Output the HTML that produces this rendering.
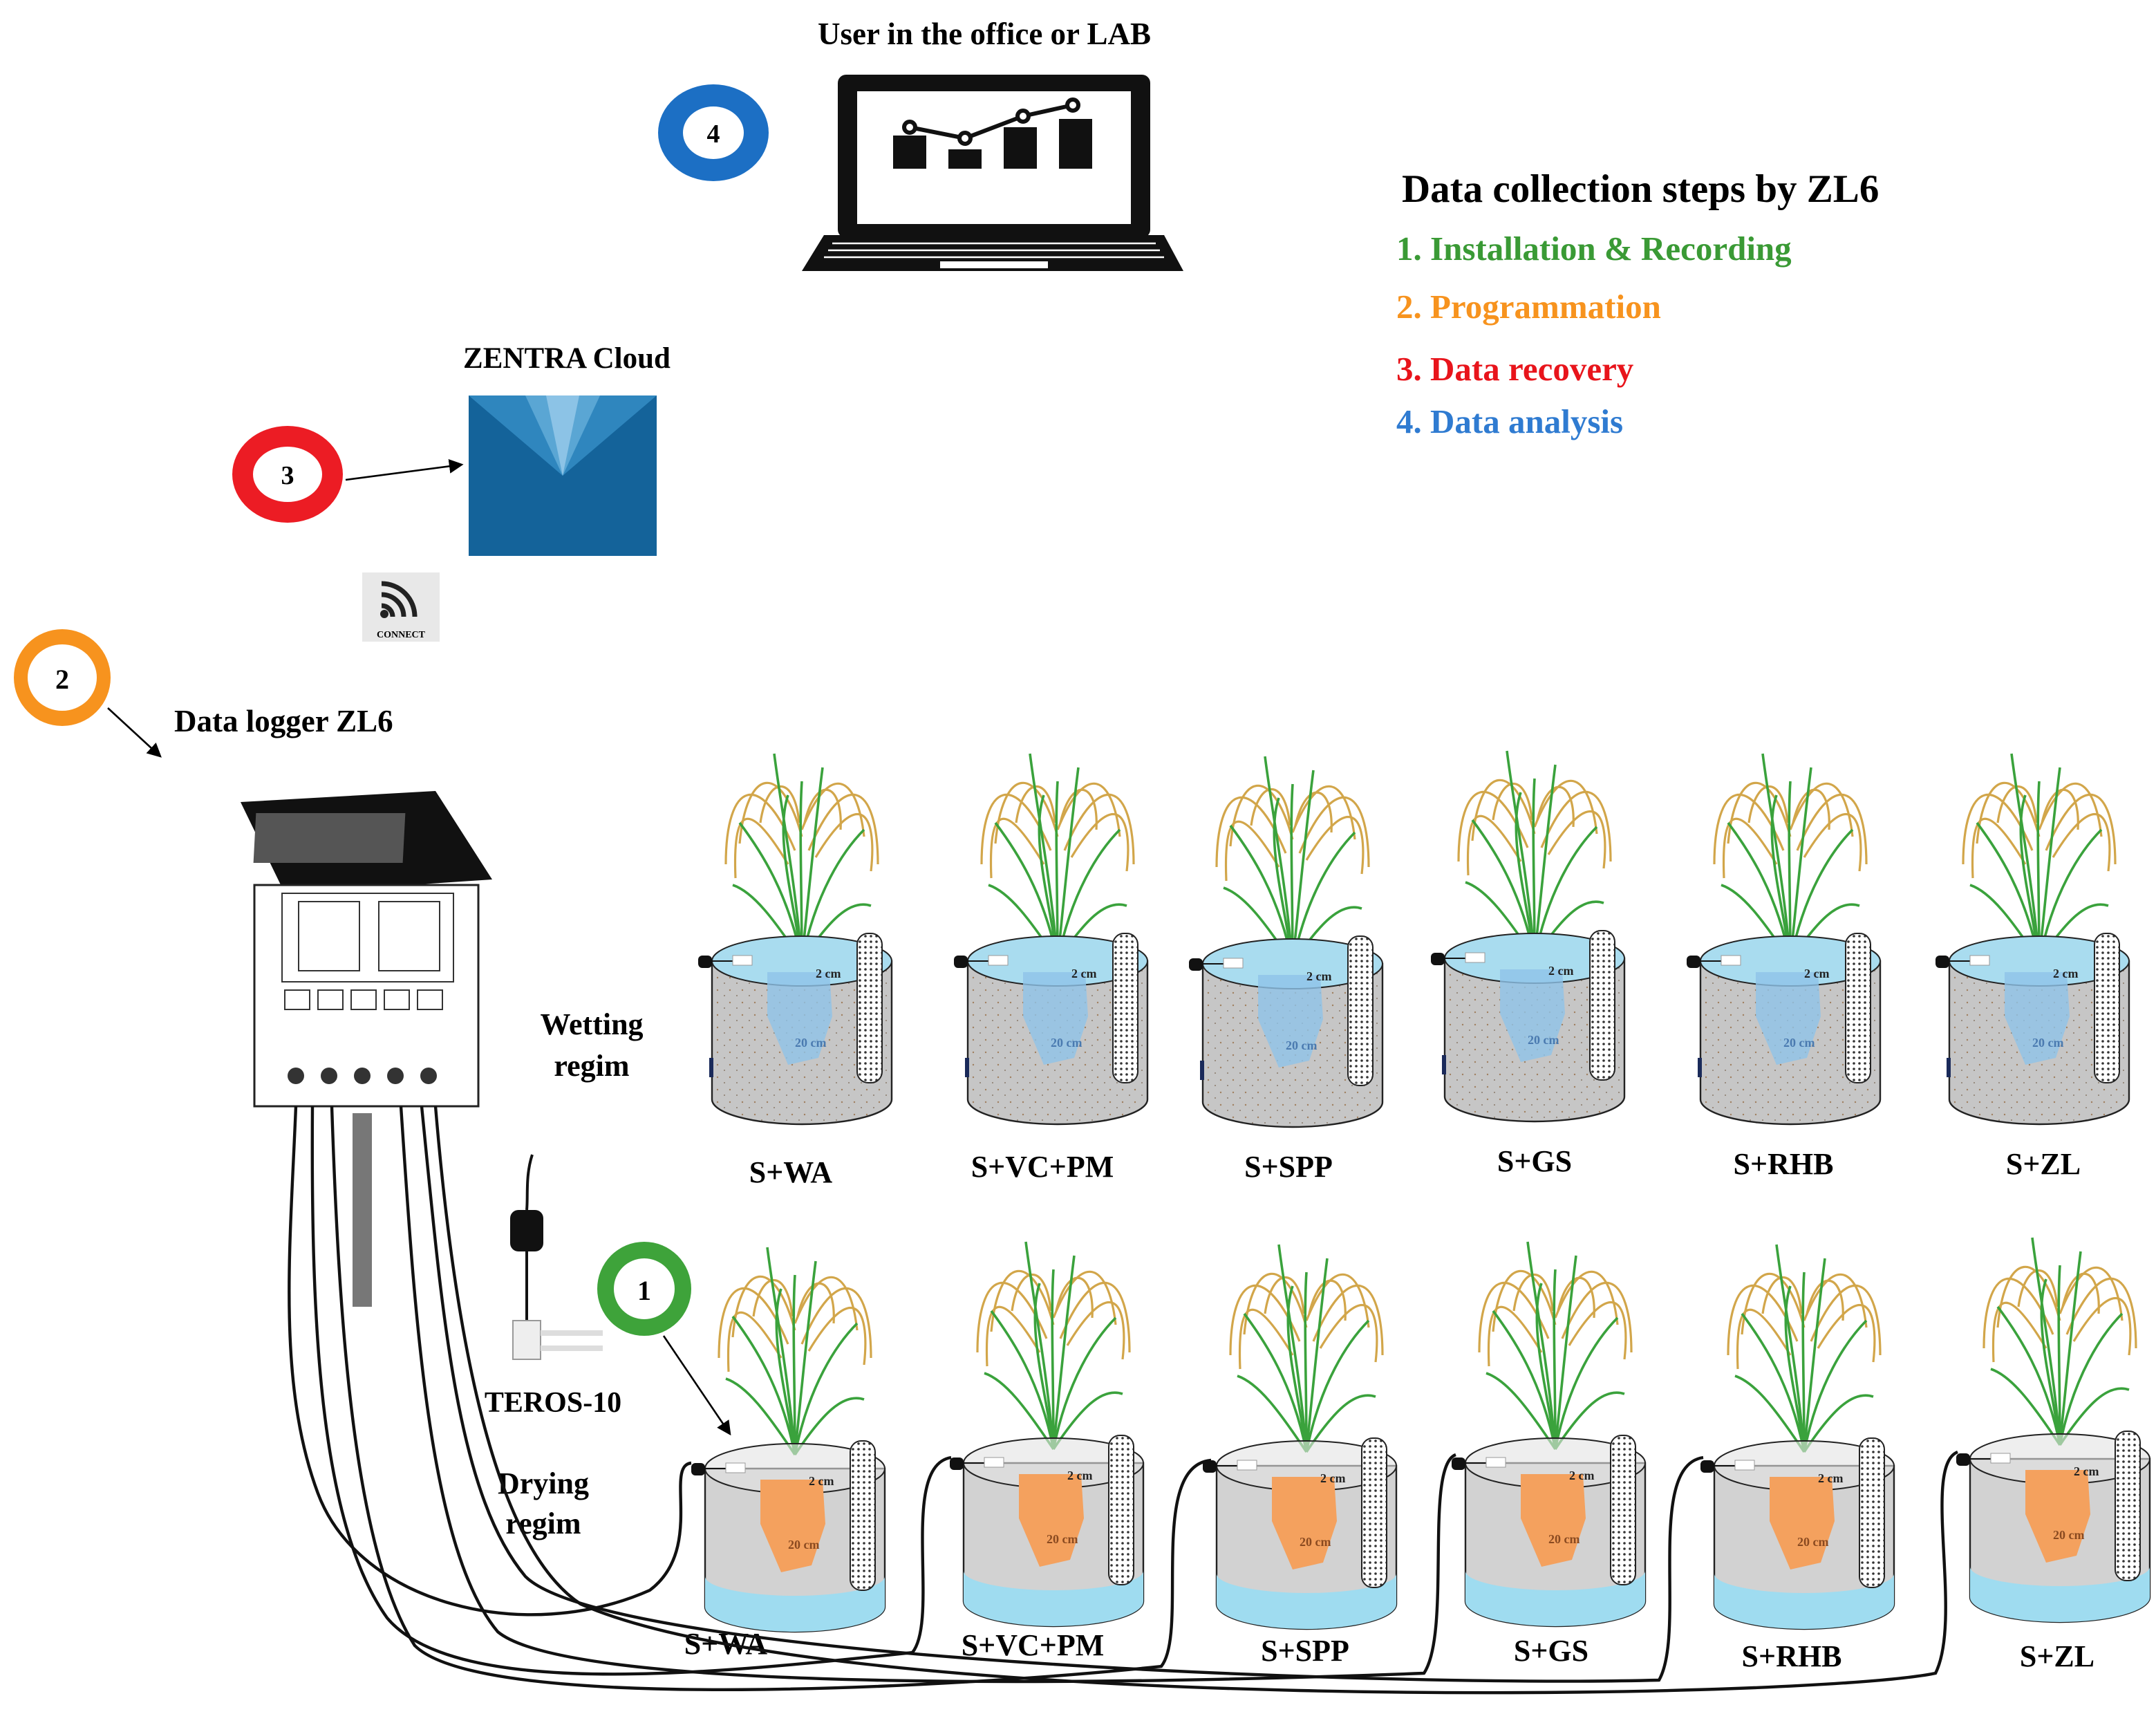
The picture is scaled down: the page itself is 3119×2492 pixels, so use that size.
<!DOCTYPE html>
<html><head><meta charset="utf-8"><style>
html,body{margin:0;padding:0;background:#fff;}
svg{display:block;}
text{font-family:"Liberation Serif",serif;font-weight:bold;}
</style></head><body>
<svg width="3119" height="2492" viewBox="0 0 1559.5 1246" xmlns="http://www.w3.org/2000/svg">
<defs>
<pattern id="dots" width="4" height="4" patternUnits="userSpaceOnUse"><rect width="4" height="4" fill="#fff"/><circle cx="2" cy="2" r="0.9" fill="#333"/></pattern>
<pattern id="sand" width="9" height="9" patternUnits="userSpaceOnUse"><rect width="9" height="9" fill="#c6c6c6"/><circle cx="2" cy="3" r="0.6" fill="#a08060"/><circle cx="7" cy="7" r="0.5" fill="#8a7a6a"/></pattern>
<marker id="ar" markerWidth="8" markerHeight="8" refX="7" refY="4" orient="auto"><path d="M0,0 L8,4 L0,8 z" fill="#000"/></marker>
<g id="plant">
 <g fill="none" stroke="#d2a64a" stroke-width="1.6">
  <path d="M-5,-70 C-30,-130 -55,-120 -55,-60"/><path d="M0,-80 C-15,-135 -40,-130 -45,-75"/>
  <path d="M5,-70 C30,-130 55,-120 55,-60"/><path d="M0,-85 C20,-135 40,-125 45,-80"/>
  <path d="M-10,-60 C-40,-110 -50,-100 -48,-50"/><path d="M10,-65 C40,-115 55,-100 50,-55"/>
  <path d="M-2,-90 C-5,-125 -25,-125 -30,-90"/><path d="M2,-90 C10,-125 30,-120 28,-85"/>
 </g>
 <g fill="none" stroke="#3aa23c" stroke-width="1.8">
  <path d="M0,10 C-5,-50 -15,-100 -20,-140"/><path d="M0,10 C5,-40 10,-90 15,-130"/>
  <path d="M0,10 C-10,-40 -30,-70 -45,-90"/><path d="M0,10 C10,-40 30,-70 45,-85"/>
  <path d="M0,10 C0,-40 -2,-90 0,-120"/><path d="M0,10 C-20,-20 -35,-40 -50,-45"/>
  <path d="M0,10 C20,-20 35,-35 50,-30"/><path d="M0,10 C-5,-30 -20,-80 -10,-110"/>
 </g>
</g>
<g id="potW">
 <path d="M-65,0 L-65,100 A65,18 0 0 0 65,100 L65,0 z" fill="url(#sand)" stroke="#222" stroke-width="1.2"/>
 <ellipse cx="0" cy="0" rx="65" ry="18" fill="#a9dcef" stroke="#222" stroke-width="1"/>
 <path d="M-25,8 L20,8 L22,40 L12,70 L-10,75 L-25,40 z" fill="#8fc3e8" opacity="0.8"/>
 <text x="-5" y="62" font-size="9" fill="#4a7ab0" font-weight="normal">20 cm</text>
 <text x="10" y="12" font-size="9" fill="#222" font-weight="normal">2 cm</text>
 <rect x="40" y="-20" width="18" height="108" rx="8" fill="url(#dots)" stroke="#222" stroke-width="1"/>
 <rect x="-75" y="-4" width="10" height="9" rx="3" fill="#111"/>
 <line x1="-65" y1="0" x2="-50" y2="0" stroke="#111"/>
 <rect x="-50" y="-4" width="14" height="7" fill="#fff" stroke="#999" stroke-width="0.5"/>
 <rect x="-67" y="70" width="3" height="14" fill="#1a2a5a"/>
</g>
<g id="potD">
 <path d="M-65,0 L-65,100 A65,18 0 0 0 65,100 L65,0 z" fill="#d2d2d2" stroke="#222" stroke-width="1.2"/>
 <path d="M-65,78 L-65,100 A65,18 0 0 0 65,100 L65,78 A65,14 0 0 1 -65,78 z" fill="#9fdcf0"/>
 <ellipse cx="0" cy="0" rx="65" ry="18" fill="#e2e2e2" fill-opacity="0.6" stroke="#222" stroke-width="1"/>
 <path d="M-25,8 L20,8 L22,40 L12,70 L-10,75 L-25,40 z" fill="#f4a15e"/>
 <text x="-5" y="58" font-size="9" fill="#8a4a20" font-weight="normal">20 cm</text>
 <text x="10" y="12" font-size="9" fill="#222" font-weight="normal">2 cm</text>
 <rect x="40" y="-20" width="18" height="108" rx="8" fill="url(#dots)" stroke="#222" stroke-width="1"/>
 <rect x="-75" y="-4" width="10" height="9" rx="3" fill="#111"/>
 <line x1="-65" y1="0" x2="-50" y2="0" stroke="#111"/>
 <rect x="-50" y="-4" width="14" height="7" fill="#fff" stroke="#999" stroke-width="0.5"/>
</g>
</defs>

<!-- top -->
<text x="712" y="32" font-size="22.5" text-anchor="middle">User in the office or LAB</text>
<ellipse cx="516" cy="96" rx="40" ry="35" fill="#1c6fc4"/>
<ellipse cx="516" cy="96" rx="22" ry="19" fill="#fff"/>
<text x="516" y="103" font-size="19" text-anchor="middle" font-weight="normal">4</text>
<!-- laptop -->
<rect x="606" y="54" width="226" height="118" rx="6" fill="#111"/>
<rect x="620" y="66" width="198" height="96" fill="#fff"/>
<g fill="#111"><rect x="646" y="98" width="24" height="24"/><rect x="686" y="108" width="24" height="14"/><rect x="726" y="92" width="24" height="30"/><rect x="766" y="86" width="24" height="36"/></g>
<polyline points="658,92 698,100 740,84 776,76" fill="none" stroke="#111" stroke-width="3"/>
<g fill="#fff" stroke="#111" stroke-width="3"><circle cx="658" cy="92" r="4"/><circle cx="698" cy="100" r="4"/><circle cx="740" cy="84" r="4"/><circle cx="776" cy="76" r="4"/></g>
<path d="M596,170 L842,170 L856,196 L580,196 z" fill="#111"/>
<g stroke="#fff" stroke-width="1.2"><line x1="602" y1="176" x2="836" y2="176"/><line x1="599" y1="181" x2="839" y2="181"/><line x1="596" y1="186" x2="842" y2="186"/></g>
<rect x="680" y="189" width="78" height="5" fill="#fff"/>

<text x="1014" y="146" font-size="28.5">Data collection steps by ZL6</text>
<text x="1010" y="188" font-size="24.5" fill="#3a9a35">1. Installation &amp; Recording</text>
<text x="1010" y="230" font-size="24.5" fill="#f7931e">2. Programmation</text>
<text x="1010" y="275" font-size="24.5" fill="#e8141b">3. Data recovery</text>
<text x="1010" y="313" font-size="24.5" fill="#2f7bd1">4. Data analysis</text>

<text x="410" y="266" font-size="21.5" text-anchor="middle">ZENTRA Cloud</text>
<rect x="339" y="286" width="136" height="116" fill="#14639a"/>
<path d="M339,286 L407,344 L475,286 z" fill="#2f86be"/>
<path d="M380,286 L407,344 L434,286 z" fill="#5aa6d4"/>
<path d="M395,286 L407,344 L419,286 z" fill="#8cc3e6"/>
<ellipse cx="208" cy="343" rx="40" ry="35" fill="#ec1c24"/>
<ellipse cx="208" cy="343" rx="25" ry="20" fill="#fff"/>
<text x="208" y="350" font-size="19" text-anchor="middle" font-weight="normal">3</text>
<line x1="250" y1="347" x2="334" y2="336" stroke="#000" stroke-width="1.3" marker-end="url(#ar)"/>
<rect x="262" y="414" width="56" height="50" fill="#e8e8e8"/>
<g fill="none" stroke="#222" stroke-width="3.5"><path d="M276,438 a8,8 0 0 1 8,8"/><path d="M276,430 a16,16 0 0 1 16,16"/><path d="M276,422 a24,24 0 0 1 24,24"/></g>
<circle cx="278" cy="444" r="3" fill="#222"/>
<text x="290" y="461" font-size="7" text-anchor="middle" font-family="Liberation Sans" font-weight="normal">CONNECT</text>

<ellipse cx="45" cy="490" rx="35" ry="35" fill="#f7931e"/>
<ellipse cx="45" cy="490" rx="25" ry="24" fill="#fff"/>
<text x="45" y="498" font-size="20" text-anchor="middle" font-weight="normal">2</text>
<line x1="78" y1="512" x2="116" y2="547" stroke="#000" stroke-width="1.3" marker-end="url(#ar)"/>
<text x="126" y="529" font-size="22.5">Data logger ZL6</text>

<!-- logger -->
<path d="M174,580 L315,572 L356,636 L206,646 z" fill="#111"/>
<rect x="216" y="588" width="108" height="36" fill="#555" transform="skewX(-3)"/>
<rect x="184" y="640" width="162" height="160" fill="#fff" stroke="#222" stroke-width="1.5"/>
<rect x="204" y="646" width="124" height="64" fill="none" stroke="#333"/>
<rect x="216" y="652" width="44" height="50" fill="none" stroke="#333"/><rect x="274" y="652" width="44" height="50" fill="none" stroke="#333"/>
<g fill="none" stroke="#333"><rect x="206" y="716" width="18" height="14"/><rect x="230" y="716" width="18" height="14"/><rect x="254" y="716" width="18" height="14"/><rect x="278" y="716" width="18" height="14"/><rect x="302" y="716" width="18" height="14"/></g>
<g fill="#333"><circle cx="214" cy="778" r="6"/><circle cx="238" cy="778" r="6"/><circle cx="262" cy="778" r="6"/><circle cx="286" cy="778" r="6"/><circle cx="310" cy="778" r="6"/></g>
<rect x="255" y="805" width="14" height="140" fill="#777"/>

<text x="428" y="748" font-size="22" text-anchor="middle">Wetting</text>
<text x="428" y="778" font-size="22" text-anchor="middle">regim</text>

<!-- row 1 -->
<g transform="translate(580,695)"><use href="#plant" y="-10"/><use href="#potW"/></g>
<g transform="translate(765,695)"><use href="#plant" y="-10"/><use href="#potW"/></g>
<g transform="translate(935,697)"><use href="#plant" y="-10"/><use href="#potW"/></g>
<g transform="translate(1110,693)"><use href="#plant" y="-10"/><use href="#potW"/></g>
<g transform="translate(1295,695)"><use href="#plant" y="-10"/><use href="#potW"/></g>
<g transform="translate(1475,695)"><use href="#plant" y="-10"/><use href="#potW"/></g>
<g font-size="22" text-anchor="middle">
<text x="572" y="855">S+WA</text><text x="754" y="851">S+VC+PM</text><text x="932" y="851">S+SPP</text>
<text x="1110" y="847">S+GS</text><text x="1290" y="849">S+RHB</text><text x="1478" y="849">S+ZL</text>
</g>

<!-- teros -->
<path d="M385,835 C380,850 382,865 381,875" fill="none" stroke="#111" stroke-width="2"/>
<rect x="369" y="875" width="24" height="30" rx="6" fill="#111"/>
<line x1="381" y1="905" x2="381" y2="955" stroke="#111" stroke-width="2"/>
<rect x="371" y="955" width="20" height="28" fill="#eee" stroke="#999"/>
<rect x="391" y="962" width="45" height="4" fill="#ddd"/><rect x="391" y="973" width="45" height="4" fill="#ddd"/>
<text x="400" y="1021" font-size="21" text-anchor="middle">TEROS-10</text>
<text x="393" y="1080" font-size="22" text-anchor="middle">Drying</text>
<text x="393" y="1109" font-size="22" text-anchor="middle">regim</text>
<ellipse cx="466" cy="932" rx="34" ry="34" fill="#3ea33a"/>
<ellipse cx="466" cy="932" rx="22" ry="22" fill="#fff"/>
<text x="466" y="940" font-size="20" text-anchor="middle" font-weight="normal">1</text>
<line x1="480" y1="966" x2="528" y2="1037" stroke="#000" stroke-width="1.3" marker-end="url(#ar)"/>

<!-- row 2 -->
<g transform="translate(575,1062)"><use href="#plant" y="-20"/><use href="#potD"/></g>
<g transform="translate(762,1058)"><use href="#plant" y="-20"/><use href="#potD"/></g>
<g transform="translate(945,1060)"><use href="#plant" y="-20"/><use href="#potD"/></g>
<g transform="translate(1125,1058)"><use href="#plant" y="-20"/><use href="#potD"/></g>
<g transform="translate(1305,1060)"><use href="#plant" y="-20"/><use href="#potD"/></g>
<g transform="translate(1490,1055)"><use href="#plant" y="-20"/><use href="#potD"/></g>
<g font-size="22" text-anchor="middle">
<text x="525" y="1196">S+WA</text><text x="747" y="1197">S+VC+PM</text><text x="944" y="1201">S+SPP</text>
<text x="1122" y="1201">S+GS</text><text x="1296" y="1205">S+RHB</text><text x="1488" y="1205">S+ZL</text>
</g>

<!-- cables -->
<g fill="none" stroke="#111" stroke-width="2.2">
<path d="M214,800 C210,900 200,1000 230,1080 C260,1160 380,1190 470,1150 C510,1120 480,1060 500,1058"/>
<path d="M226,800 C225,950 230,1100 280,1170 C330,1230 520,1210 660,1195 C680,1170 650,1060 688,1054"/>
<path d="M240,800 C245,950 255,1120 300,1190 C350,1240 700,1220 840,1205 C860,1180 830,1060 876,1056"/>
<path d="M290,800 C300,950 310,1120 360,1180 C420,1230 900,1215 1030,1210 C1050,1180 1030,1060 1053,1052"/>
<path d="M305,800 C320,950 330,1080 380,1140 C440,1200 1000,1220 1200,1215 C1220,1180 1190,1060 1232,1054"/>
<path d="M315,800 C330,980 360,1120 420,1160 C600,1240 1300,1230 1400,1210 C1420,1170 1390,1060 1416,1050"/>
</g>
</svg>
</body></html>
